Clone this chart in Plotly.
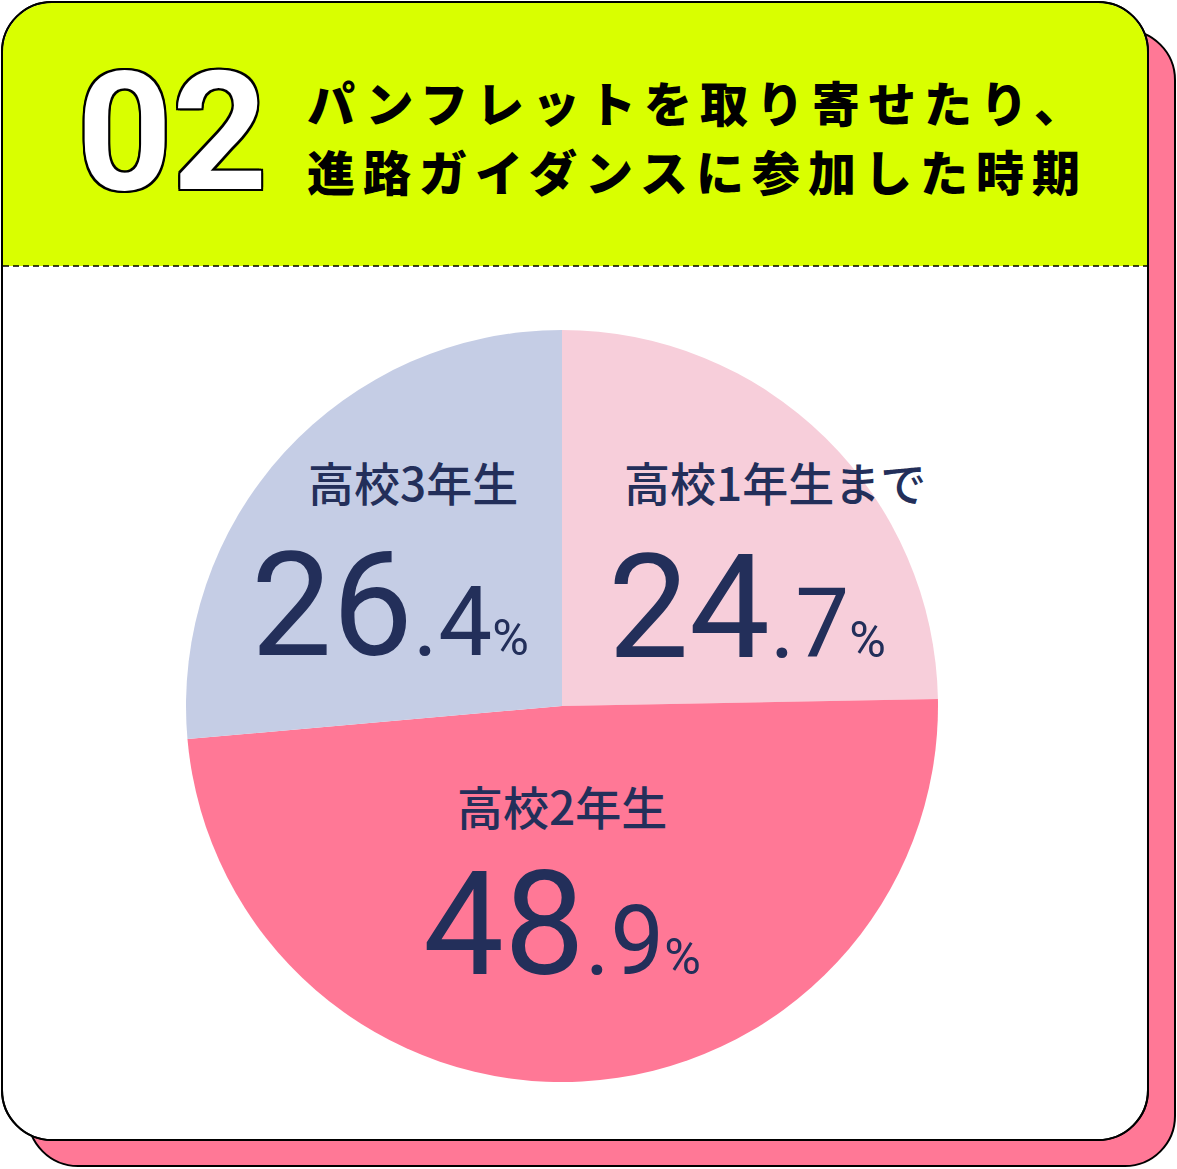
import plotly.graph_objects as go

W, H = 1177, 1169

# data
title_lines = ['パンフレットを取り寄せたり、', '進路ガイダンスに参加した時期']
badge = '02'
labels = ['高校1年生まで', '高校2年生', '高校3年生']
values = [24.7, 48.9, 26.4]
colors = ['#F7CEDA', '#FF7896', '#C5CDE5']

NAVY = '#232F5A'
LIME = '#D9FF00'
PINK = '#FF7896'

# label placement in pixels (category label centre, number centre)
label_xy = [(775, 481), (562, 805), (413, 481)]
number_xy = [(747, 607), (562, 924), (390, 605)]


def px(x):
    return x / W


def py(y):
    return 1 - y / H


def rrect(x0, y0, x1, y1, r, bottom_round=True):
    k = 0.4477 * r
    p = lambda x, y: f'{px(x):.5f},{py(y):.5f}'
    s = f'M{p(x0 + r, y0)} L{p(x1 - r, y0)} C{p(x1 - k, y0)} {p(x1, y0 + k)} {p(x1, y0 + r)} '
    if bottom_round:
        s += f'L{p(x1, y1 - r)} C{p(x1, y1 - k)} {p(x1 - k, y1)} {p(x1 - r, y1)} '
        s += f'L{p(x0 + r, y1)} C{p(x0 + k, y1)} {p(x0, y1 - k)} {p(x0, y1 - r)} '
    else:
        s += f'L{p(x1, y1)} L{p(x0, y1)} '
    s += f'L{p(x0, y0 + r)} C{p(x0, y0 + k)} {p(x0 + k, y0)} {p(x0 + r, y0)} Z'
    return s


fig = go.Figure(go.Pie(
    labels=labels,
    values=values,
    marker=dict(colors=colors, line=dict(width=0)),
    sort=False,
    direction='clockwise',
    rotation=0,
    textinfo='none',
    hoverinfo='skip',
    showlegend=False,
    domain=dict(x=[(562 - 376) / W, (562 + 376) / W], y=[py(1082), py(330)]),
))

shapes = [
    dict(type='path', path=rrect(28, 30, 1175, 1166, 50), fillcolor=PINK,
         line=dict(color='black', width=2), xref='paper', yref='paper', layer='below'),
    dict(type='path', path=rrect(2, 2, 1148, 1140, 50), fillcolor='white',
         line=dict(color='black', width=2), xref='paper', yref='paper', layer='below'),
    dict(type='path', path=rrect(3, 3, 1147, 266, 49, bottom_round=False), fillcolor=LIME,
         line=dict(width=0), xref='paper', yref='paper', layer='below'),
    dict(type='path', path=rrect(2, 2, 1148, 1140, 50), fillcolor='rgba(0,0,0,0)',
         line=dict(color='black', width=2), xref='paper', yref='paper', layer='below'),
    dict(type='line', x0=px(3), x1=px(1147), y0=py(266), y1=py(266),
         line=dict(color='black', width=1.3, dash='6px,4px'), xref='paper', yref='paper', layer='below'),
]

annotations = []
stroke = ', '.join(f'{dx}px {dy}px 0 #000' for dx, dy in
                   [(2, 0), (-2, 0), (0, 2), (0, -2), (2, 2), (-2, -2), (2, -2), (-2, 2)])
annotations.append(dict(
    text=badge, x=px(172), y=py(132), xref='paper', yref='paper', showarrow=False,
    xanchor='center', yanchor='middle',
    font=dict(family='Roboto', size=166, color='white', weight=700, shadow=stroke),
))
for i, line in enumerate(title_lines):
    annotations.append(dict(
        text=f"<span style='letter-spacing:8px'>{line}</span>",
        x=px(305), y=py(101 + 69 * i), xref='paper', yref='paper', showarrow=False,
        xanchor='left', yanchor='middle',
        font=dict(family='Noto Sans CJK JP', size=48, color='black', weight=900),
    ))

for lab, v, (lx, ly), (nx, ny) in zip(labels, values, label_xy, number_xy):
    annotations.append(dict(
        text=lab, x=px(lx), y=py(ly), xref='paper', yref='paper', showarrow=False,
        xanchor='center', yanchor='middle',
        font=dict(family='Noto Sans CJK JP', size=46, color=NAVY, weight=500),
    ))
    whole, dec = f'{v:.1f}'.split('.')
    annotations.append(dict(
        text=(f"{whole}<span style='font-size:96px'>.{dec}</span>"
              f"<span style='font-size:50px'>%</span>"),
        x=px(nx), y=py(ny), xref='paper', yref='paper', showarrow=False,
        xanchor='center', yanchor='middle',
        font=dict(family='Roboto', size=144, color=NAVY, weight=400),
    ))

fig.update_layout(
    width=W, height=H,
    margin=dict(l=0, r=0, t=0, b=0),
    paper_bgcolor='white', plot_bgcolor='white',
    shapes=shapes,
    annotations=annotations,
)

fig.write_html('out.html', config={'displayModeBar': False},
               post_script="document.body.style.margin='0';")
